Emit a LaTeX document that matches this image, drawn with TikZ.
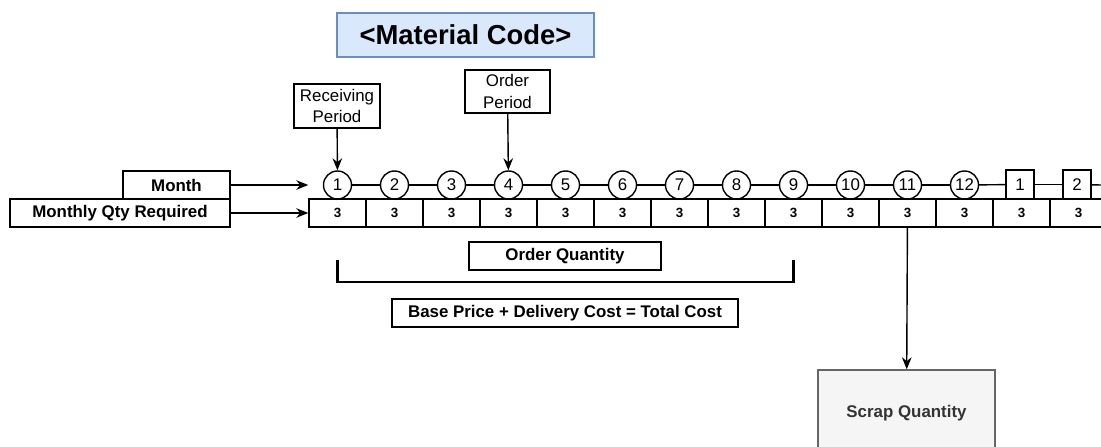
\documentclass[tikz,border=0pt]{standalone}
\usepackage{fontspec}
\setmainfont{Liberation Sans}
\usepackage{xcolor}
\usetikzlibrary{positioning,arrows.meta,calc}

\definecolor{codefill}{HTML}{DAE8FC}
\definecolor{codeline}{HTML}{6C8EBF}
\definecolor{scrapfill}{HTML}{F5F5F5}
\definecolor{scrapline}{HTML}{666666}
\definecolor{scraptext}{HTML}{333333}

\begin{document}
\begin{tikzpicture}[
  x=0.025cm, y=-0.025cm,
  label/.style={draw, line width=1pt, inner sep=0pt, font=\fontsize{12}{14}\selectfont\bfseries, minimum height=0.7cm, align=center},
  note/.style={draw, line width=1pt, inner sep=0pt, font=\fontsize{12}{15}\selectfont, align=center},
  month/.style={draw, circle, line width=1pt, inner sep=0pt, minimum size=0.7cm, fill=white, font=\fontsize{12}{14}\selectfont},
  nextyr/.style={draw, rectangle, line width=1pt, inner sep=0pt, minimum width=0.7cm, minimum height=0.72cm, fill=white, font=\fontsize{12}{14}\selectfont},
  cell/.style={draw, line width=1pt, inner sep=0pt, minimum width=1.425cm, minimum height=0.7cm, font=\fontsize{9.5}{11}\selectfont\bfseries},
  arrow/.style={-{Stealth[length=3mm,width=2.4mm]}, line width=1pt},
  link/.style={line width=1pt},
  bracket/.style={line width=1.6pt}
]
\useasboundingbox (0,0) rectangle (1101,447);

\node[draw=codeline, fill=codefill, line width=1pt, minimum width=6.425cm, minimum height=1.1cm, font=\fontsize{19.5}{21}\selectfont\bfseries] (code) at (465.5,35) {<Material Code>};

\node[note, minimum width=2.15cm, minimum height=1.1cm] (recv) at (337,106) {Receiving\\Period};
\node[note, minimum width=2.125cm, minimum height=1.075cm] (ordp) at (507.5,91.5) {Order\\Period};

\node[label, minimum width=2.675cm] (mlabel) at (176.5,185) {Month};
\node[label, minimum width=5.5cm] (qlabel) at (120,213) {Monthly Qty Required};

% months
\node[month] (m1) at (337.5,185) {1};
\node[month] (m2) at (394.5,185) {2};
\node[month] (m3) at (451.5,185) {3};
\node[month] (m4) at (508.5,185) {4};
\node[month] (m5) at (565.5,185) {5};
\node[month] (m6) at (622.5,185) {6};
\node[month] (m7) at (679.5,185) {7};
\node[month] (m8) at (736.5,185) {8};
\node[month] (m9) at (793.5,185) {9};
\node[month] (m10) at (850.5,185) {10};
\node[month] (m11) at (907.5,185) {11};
\node[month] (m12) at (964.5,185) {12};
\node[nextyr] (n1) at (1020,184.5) {1};
\node[nextyr] (n2) at (1077,184.5) {2};
\coordinate (edge) at (1101,185);

% quantities
\node[cell] (c1) at (337.5,213) {3};
\node[cell] (c2) at (394.5,213) {3};
\node[cell] (c3) at (451.5,213) {3};
\node[cell] (c4) at (508.5,213) {3};
\node[cell] (c5) at (565.5,213) {3};
\node[cell] (c6) at (622.5,213) {3};
\node[cell] (c7) at (679.5,213) {3};
\node[cell] (c8) at (736.5,213) {3};
\node[cell] (c9) at (793.5,213) {3};
\node[cell] (c10) at (850.5,213) {3};
\node[cell] (c11) at (907.5,213) {3};
\node[cell] (c12) at (964.5,213) {3};
\node[cell] (c13) at (1021.5,213) {3};
\node[cell] (c14) at (1078.5,213) {3};

\node[label, minimum width=4.8cm] (oq) at (565,256) {Order Quantity};
\node[label, minimum width=8.65cm] (cost) at (565,313) {Base Price + Delivery Cost = Total Cost};
\node[draw=scrapline, fill=scrapfill, line width=1pt, text=scraptext, minimum width=4.425cm, minimum height=2.15cm, font=\fontsize{12}{14}\selectfont\bfseries] (scrap) at (906.5,413) {Scrap Quantity};

\coordinate (bl) at (337.5,260);
\coordinate (br) at (793.5,260);

\draw[link] (m1) -- (m2);
\draw[link] (m2) -- (m3);
\draw[link] (m3) -- (m4);
\draw[link] (m4) -- (m5);
\draw[link] (m5) -- (m6);
\draw[link] (m6) -- (m7);
\draw[link] (m7) -- (m8);
\draw[link] (m8) -- (m9);
\draw[link] (m9) -- (m10);
\draw[link] (m10) -- (m11);
\draw[link] (m11) -- (m12);
\draw[link] (m12) -- (n1);
\draw[link] (n1) -- (n2);
\draw[link] (n2) -- (edge);

\draw[arrow] (recv) -- (m1);
\draw[arrow] (ordp) -- (m4);
\draw[arrow] (mlabel) -- (mlabel -| c1.west);
\draw[arrow] (qlabel) -- (c1);
\draw[arrow] (c11) -- (scrap);

\draw[bracket] (bl) -- ++(0,22) -| (br);

\end{tikzpicture}
\end{document}
